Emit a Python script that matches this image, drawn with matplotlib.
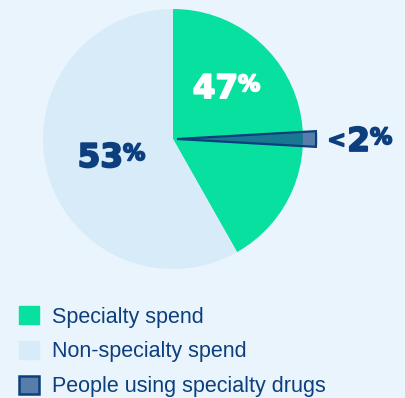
import matplotlib
matplotlib.use("Agg")
import matplotlib.pyplot as plt
import matplotlib.patheffects as pe
from matplotlib.patches import Wedge, Patch

# spend split (wedge sizes as drawn in the source graphic) and printed labels
spend_labels = ["Specialty spend", "Non-specialty spend"]
spend_share = [41.8, 58.2]
spend_text = ["47", "53"]
people_label = "People using specialty drugs"
people_share = 1.8
people_text = "2"

bg = "#eaf4fc"
green = "#08e0a0"
light = "#d8ebf9"
navy = "#0d3f7e"
people_fill = (0.12, 0.31, 0.55, 0.72)

W, H = 406, 398
cx, cy, r = 173, 259, 130

fig = plt.figure(figsize=(W / 100, H / 100), dpi=100, facecolor=bg)
ax = fig.add_axes([0, 0, 1, 1])
ax.set_facecolor(bg)

ax.pie(spend_share, colors=[green, light], startangle=90, counterclock=False,
       radius=r, center=(cx, cy), wedgeprops=dict(linewidth=0))

# thin exploded slice for people, centred on 0 degrees
half = people_share * 3.6 / 2
ax.add_patch(Wedge((cx + 4, cy), r * 1.07, -half, half, facecolor=people_fill,
                   edgecolor=navy, linewidth=1.6, zorder=5))

ax.set_xlim(0, W)
ax.set_ylim(0, H)
ax.set_aspect("equal")
ax.axis("off")

def pct_label(x, y, num, color):
    fx = [pe.withStroke(linewidth=1.3, foreground=color)]
    ax.text(x, y, num, ha="right", va="baseline", color=color, fontsize=23.5,
            fontweight="bold", family="DejaVu Sans", path_effects=fx)
    ax.text(x, y + 7, "%", ha="left", va="baseline", color=color, fontsize=16,
            fontweight="bold", family="DejaVu Sans", path_effects=fx)

pct_label(238, 300, spend_text[0], "white")
pct_label(123, 231, spend_text[1], navy)

ax.text(346, 251, "<", ha="right", va="baseline", color=navy, fontsize=16,
        fontweight="bold", family="DejaVu Sans",
        path_effects=[pe.withStroke(linewidth=1.2, foreground=navy)])
pct_label(370, 247, people_text, navy)

handles = [Patch(facecolor=green, edgecolor=green),
           Patch(facecolor=light, edgecolor=light),
           Patch(facecolor=people_fill, edgecolor=navy, linewidth=1.8)]
leg = ax.legend(handles, spend_labels + [people_label], loc="upper left",
                bbox_to_anchor=(19 / W, 1 - 306 / H), frameon=False,
                prop=dict(family="Liberation Sans", size=15.5),
                handlelength=0.93, handleheight=0.93, handletextpad=0.62,
                labelspacing=0.62, borderaxespad=0, borderpad=0)
for t in leg.get_texts():
    t.set_color(navy)

fig.savefig("out.png", dpi=100, facecolor=bg)
